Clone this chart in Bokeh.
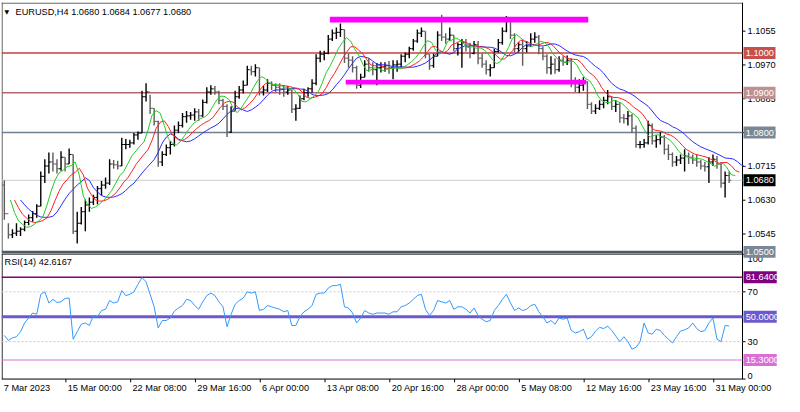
import pandas as pd
from bokeh.plotting import figure
from bokeh.models import Range1d, Label, ColumnDataSource
from bokeh.core.properties import value
from bokeh.embed import file_html
from bokeh.resources import INLINE

# ---------------- data ----------------
chart_title = "EURUSD,H4  1.0680 1.0684 1.0677 1.0680"
rsi_title = "RSI(14) 42.6167"

opens = [
    1.0668, 1.0596, 1.0543, 1.0547, 1.0552, 1.0557, 1.0574, 1.0586, 1.0596, 1.0615,
    1.0690, 1.0716, 1.0726, 1.0721, 1.0709, 1.0738, 1.0721, 1.0745, 1.0552, 1.0572,
    1.0601, 1.0618, 1.0625, 1.0637, 1.0659, 1.0668, 1.0673, 1.0721, 1.0719, 1.0716,
    1.0770, 1.0770, 1.0774, 1.0794, 1.0799, 1.0890, 1.0902, 1.0861, 1.0828, 1.0726,
    1.0745, 1.0762, 1.0770, 1.0806, 1.0818, 1.0840, 1.0842, 1.0844, 1.0852, 1.0842,
    1.0876, 1.0902, 1.0910, 1.0902, 1.0881, 1.0866, 1.0801, 1.0854, 1.0890, 1.0907,
    1.0919, 1.0958, 1.0953, 1.0963, 1.0902, 1.0907, 1.0924, 1.0919, 1.0914, 1.0910,
    1.0902, 1.0907, 1.0859, 1.0861, 1.0885, 1.0900, 1.0910, 1.0924, 1.0987, 1.0997,
    1.0999, 1.1035, 1.1050, 1.1052, 1.1059, 1.0987, 1.0982, 1.0963, 1.0919, 1.0939,
    1.0972, 1.0963, 1.0958, 1.0963, 1.0965, 1.0968, 1.0963, 1.0970, 1.0972, 1.0992,
    1.0997, 1.1011, 1.1030, 1.1050, 1.1055, 1.0997, 1.0968, 1.0992, 1.1045, 1.1040,
    1.1035, 1.1045, 1.1011, 1.1021, 1.1026, 1.1016, 1.0999, 1.1021, 1.0987, 1.0972,
    1.0958, 1.0963, 1.1004, 1.1026, 1.1055, 1.1079, 1.1045, 1.1011, 1.1021, 1.1011,
    1.1018, 1.1035, 1.1040, 1.1011, 1.0992, 1.0963, 1.0972, 1.0958, 1.0982, 1.0977,
    1.0982, 1.0927, 1.0914, 1.0919, 1.0927, 1.0871, 1.0854, 1.0861, 1.0871, 1.0881,
    1.0890, 1.0866, 1.0871, 1.0837, 1.0835, 1.0842, 1.0811, 1.0770, 1.0770, 1.0774,
    1.0818, 1.0779, 1.0782, 1.0789, 1.0758, 1.0745, 1.0726, 1.0731, 1.0736, 1.0741,
    1.0738, 1.0731, 1.0726, 1.0716, 1.0714, 1.0726, 1.0733, 1.0721, 1.0673, 1.0692,
]
highs = [
    1.0680, 1.0572, 1.0557, 1.0572, 1.0562, 1.0579, 1.0594, 1.0603, 1.0620, 1.0702,
    1.0733, 1.0750, 1.0750, 1.0733, 1.0753, 1.0738, 1.0760, 1.0745, 1.0601, 1.0613,
    1.0632, 1.0637, 1.0644, 1.0666, 1.0678, 1.0687, 1.0733, 1.0731, 1.0729, 1.0787,
    1.0784, 1.0782, 1.0799, 1.0803, 1.0905, 1.0924, 1.0895, 1.0861, 1.0830, 1.0753,
    1.0770, 1.0779, 1.0818, 1.0828, 1.0849, 1.0854, 1.0852, 1.0861, 1.0859, 1.0883,
    1.0914, 1.0919, 1.0917, 1.0905, 1.0885, 1.0871, 1.0866, 1.0905, 1.0917, 1.0931,
    1.0968, 1.0968, 1.0972, 1.0963, 1.0917, 1.0934, 1.0929, 1.0924, 1.0924, 1.0919,
    1.0917, 1.0907, 1.0871, 1.0893, 1.0910, 1.0914, 1.0934, 1.0997, 1.1006, 1.1006,
    1.1045, 1.1059, 1.1064, 1.1074, 1.1059, 1.0999, 1.0992, 1.0968, 1.0948, 1.0982,
    1.0987, 1.0977, 1.0975, 1.0977, 1.0977, 1.0980, 1.0982, 1.0982, 1.0997, 1.1001,
    1.1016, 1.1035, 1.1059, 1.1064, 1.1055, 1.0997, 1.0999, 1.1055, 1.1096, 1.1050,
    1.1064, 1.1045, 1.1026, 1.1035, 1.1035, 1.1026, 1.1030, 1.1030, 1.0999, 1.0982,
    1.0972, 1.1011, 1.1035, 1.1064, 1.1093, 1.1088, 1.1050, 1.1028, 1.1035, 1.1030,
    1.1050, 1.1052, 1.1045, 1.1016, 1.0997, 1.0992, 1.0987, 1.0992, 1.0992, 1.0994,
    1.0987, 1.0939, 1.0934, 1.0939, 1.0929, 1.0876, 1.0871, 1.0881, 1.0890, 1.0907,
    1.0890, 1.0881, 1.0876, 1.0847, 1.0854, 1.0847, 1.0818, 1.0779, 1.0784, 1.0830,
    1.0823, 1.0794, 1.0801, 1.0794, 1.0770, 1.0750, 1.0741, 1.0745, 1.0758, 1.0750,
    1.0745, 1.0745, 1.0731, 1.0726, 1.0738, 1.0745, 1.0741, 1.0726, 1.0702, 1.0702,
]
lows = [
    1.0581, 1.0533, 1.0535, 1.0540, 1.0540, 1.0552, 1.0567, 1.0576, 1.0586, 1.0615,
    1.0673, 1.0697, 1.0702, 1.0697, 1.0704, 1.0702, 1.0721, 1.0545, 1.0521, 1.0569,
    1.0552, 1.0601, 1.0618, 1.0620, 1.0642, 1.0659, 1.0668, 1.0709, 1.0707, 1.0716,
    1.0758, 1.0762, 1.0770, 1.0782, 1.0799, 1.0878, 1.0847, 1.0818, 1.0714, 1.0716,
    1.0741, 1.0745, 1.0765, 1.0799, 1.0813, 1.0825, 1.0832, 1.0830, 1.0830, 1.0840,
    1.0873, 1.0895, 1.0895, 1.0871, 1.0857, 1.0789, 1.0799, 1.0854, 1.0885, 1.0898,
    1.0919, 1.0944, 1.0941, 1.0893, 1.0893, 1.0902, 1.0907, 1.0902, 1.0895, 1.0890,
    1.0895, 1.0849, 1.0830, 1.0859, 1.0881, 1.0890, 1.0900, 1.0919, 1.0977, 1.0982,
    1.0997, 1.1030, 1.1035, 1.1040, 1.0975, 1.0963, 1.0951, 1.0910, 1.0912, 1.0939,
    1.0953, 1.0944, 1.0919, 1.0951, 1.0953, 1.0948, 1.0934, 1.0953, 1.0963, 1.0977,
    1.0987, 1.1006, 1.1026, 1.1040, 1.0987, 1.0958, 1.0963, 1.0992, 1.1030, 1.1023,
    1.1030, 1.1004, 1.0994, 1.0963, 1.1004, 1.0987, 1.0997, 1.0972, 1.0963, 1.0946,
    1.0941, 1.0963, 1.1001, 1.1021, 1.1052, 1.1035, 1.1001, 1.1001, 1.0968, 1.1001,
    1.1016, 1.1026, 1.0997, 1.0982, 1.0948, 1.0946, 1.0948, 1.0953, 1.0968, 1.0970,
    1.0914, 1.0902, 1.0900, 1.0905, 1.0859, 1.0847, 1.0847, 1.0857, 1.0861, 1.0871,
    1.0857, 1.0852, 1.0825, 1.0823, 1.0818, 1.0799, 1.0762, 1.0760, 1.0762, 1.0770,
    1.0770, 1.0762, 1.0770, 1.0745, 1.0731, 1.0714, 1.0716, 1.0721, 1.0702, 1.0721,
    1.0721, 1.0714, 1.0707, 1.0702, 1.0673, 1.0716, 1.0709, 1.0661, 1.0637, 1.0673,
]
closes = [
    1.0596, 1.0543, 1.0547, 1.0552, 1.0557, 1.0574, 1.0586, 1.0596, 1.0615, 1.0690,
    1.0716, 1.0726, 1.0721, 1.0709, 1.0738, 1.0721, 1.0745, 1.0552, 1.0572, 1.0601,
    1.0618, 1.0625, 1.0637, 1.0659, 1.0668, 1.0673, 1.0721, 1.0719, 1.0716, 1.0770,
    1.0770, 1.0774, 1.0794, 1.0799, 1.0890, 1.0902, 1.0861, 1.0828, 1.0726, 1.0745,
    1.0762, 1.0770, 1.0806, 1.0818, 1.0840, 1.0842, 1.0844, 1.0852, 1.0842, 1.0876,
    1.0902, 1.0910, 1.0902, 1.0881, 1.0866, 1.0801, 1.0854, 1.0890, 1.0907, 1.0919,
    1.0958, 1.0953, 1.0963, 1.0902, 1.0907, 1.0924, 1.0919, 1.0914, 1.0910, 1.0902,
    1.0907, 1.0859, 1.0861, 1.0885, 1.0900, 1.0910, 1.0924, 1.0987, 1.0997, 1.0999,
    1.1035, 1.1050, 1.1052, 1.1059, 1.0987, 1.0982, 1.0963, 1.0919, 1.0939, 1.0972,
    1.0963, 1.0958, 1.0963, 1.0965, 1.0968, 1.0963, 1.0970, 1.0972, 1.0992, 1.0997,
    1.1011, 1.1030, 1.1050, 1.1055, 1.0997, 1.0968, 1.0992, 1.1045, 1.1040, 1.1035,
    1.1045, 1.1011, 1.1021, 1.1026, 1.1016, 1.0999, 1.1021, 1.0987, 1.0972, 1.0958,
    1.0963, 1.1004, 1.1026, 1.1055, 1.1079, 1.1045, 1.1011, 1.1021, 1.1011, 1.1018,
    1.1035, 1.1040, 1.1011, 1.0992, 1.0963, 1.0972, 1.0958, 1.0982, 1.0977, 1.0982,
    1.0927, 1.0914, 1.0919, 1.0927, 1.0871, 1.0854, 1.0861, 1.0871, 1.0881, 1.0890,
    1.0866, 1.0871, 1.0837, 1.0835, 1.0842, 1.0811, 1.0770, 1.0770, 1.0774, 1.0818,
    1.0779, 1.0782, 1.0789, 1.0758, 1.0745, 1.0726, 1.0731, 1.0736, 1.0741, 1.0738,
    1.0731, 1.0726, 1.0716, 1.0714, 1.0726, 1.0733, 1.0721, 1.0673, 1.0692, 1.0680,
]
rsi_values = [
    35, 31, 33, 34, 38, 45, 49, 53, 52, 68,
    70, 61, 64, 61.5, 62, 64.6, 65, 32, 38, 44,
    45, 43, 51, 50, 55, 56, 63, 61, 62, 71,
    67, 68, 70, 76, 81.5, 78, 68, 58, 41, 47,
    47, 49, 54.5, 57, 59, 64, 63, 59, 56, 62,
    67, 69, 67, 62, 58, 42, 52, 60, 63, 65,
    70, 69, 70, 55, 56, 59, 58, 57, 56, 54,
    55, 43, 43, 50, 54, 56, 59, 68, 69, 69,
    73, 75, 75, 76, 58, 57, 53, 45, 49, 55,
    53, 52, 53, 53, 53, 52, 54, 54, 58, 59,
    61, 64, 67, 68, 56, 51, 55, 63, 62, 61,
    63, 56, 58, 58, 56, 53, 57, 51, 48, 46,
    47, 55, 59, 64, 68, 61, 55, 57, 55, 56,
    59, 60, 54, 50, 45, 47, 44, 49, 48, 49,
    39, 37, 38, 40, 32, 34, 38.5, 41.5, 40.5, 42.5,
    39, 34.5, 30, 34, 30, 24, 25.5, 30, 45, 37,
    36, 40, 39, 35, 32, 29, 34, 38.5, 39.5, 41,
    45, 40.5, 38, 39, 45, 49, 32, 30, 43, 42.6,
]

time_ticks = [-0.6, 15.2, 31.2, 47.2, 63.2, 79.2, 95.2, 111.2, 127.2, 143.2, 159.2, 175.2]
time_labels = ["7 Mar 2023", "15 Mar 00:00", "22 Mar 08:00", "29 Mar 16:00", "6 Apr 00:00",
               "13 Apr 08:00", "20 Apr 16:00", "28 Apr 00:00", "5 May 08:00",
               "12 May 16:00", "23 May 16:00", "31 May 00:00"]
price_ticks = [1.1055, 1.0970, 1.0885, 1.0800, 1.0715, 1.0630, 1.0545]
rsi_ticks = [100, 70, 30, 0]

price_levels = [1.1000, 1.0900, 1.0800, 1.0680, 1.0500]
rsi_levels = [81.64, 50.0, 15.3]
rsi_dotted_levels = [70, 30]

zone_left = [80.4, 84.3]
zone_right = [144.2, 143.7]
zone_top = [1.1091, 1.0933]
zone_bottom = [1.1077, 1.0921]

# Alligator settings (periods / shifts, in chart bars)
jaw_period, jaw_shift = 6.5, 4.0
teeth_period, teeth_shift = 4.0, 2.5
lips_period, lips_shift = 2.5, 1.5

# ---------------- styles / geometry ----------------
FONT = "Liberation Sans"
FS = "9.2px"
level_line_colors = ["#c4403c", "#b46a6a", "#6f7f8f", "#cccccc", "#4f5a66"]
level_line_widths = [1.6, 1.4, 1.4, 1, 2.2]
level_box_colors = ["#c8504c", "#c09090", "#7a8896", "#000000", "#7a8896"]
rsi_line_colors = ["#800080", "#6a5acd", "#da70d6"]
rsi_line_widths = [1.5, 3.2, 1.2]

X0, X1, XE = -0.7, 182.3, 192.67      # frame left, price-area right (axis line), frame right
P_LO, P_HI = 1.01365, 1.1127          # price scale over the whole frame (main panel on top)
R_LO, R_HI = -14.0, 302.2             # RSI scale over the whole frame (RSI panel below)
MAIN_BOTTOM = 1.0500
BOX_W = 7.9
P_BOX_H, R_BOX_H = 0.0030, 9.6

n = len(closes)
idx = list(range(n))

p = figure(width=784, height=396, x_range=Range1d(X0, XE), y_range=Range1d(P_LO, P_HI),
           x_axis_location=None, y_axis_location=None, output_backend="svg",
           toolbar_location=None, min_border_left=1, min_border_right=0,
           min_border_top=2, min_border_bottom=0)
p.extra_y_ranges = {"rsi": Range1d(R_LO, R_HI)}
p.background_fill_color = "white"
p.border_fill_color = "white"
p.outline_line_color = None
p.xgrid.visible = False
p.ygrid.visible = False

TXT = dict(text_font=value(FONT), text_font_size=value(FS))

# ---- frame lines ----
p.segment(x0=[X0 + 0.15, X0], y0=[MAIN_BOTTOM, 1.11255], x1=[X0 + 0.15, X1], y1=[P_HI, 1.11255],
          line_color="#444444", line_width=1)
p.segment(x0=[X0 + 0.15, X0, X0, X1], y0=[0, 100.3, 0, 0], x1=[X0 + 0.15, X1, X1, X1],
          y1=[100.3, 100.3, 0, R_HI], line_color="black", line_width=1, y_range_name="rsi")

# ---- price axis ticks ----
p.segment(x0=[X1] * len(price_ticks), y0=price_ticks, x1=[X1 + 0.75] * len(price_ticks),
          y1=price_ticks, line_color="black", line_width=1)
p.text(x=[X1 + 1.25] * len(price_ticks), y=price_ticks, text=[f"{t:.4f}" for t in price_ticks],
       text_align="left", text_baseline="middle", text_color="black", **TXT)

# ---- level lines ----
p.segment(x0=[X0] * len(price_levels), y0=price_levels, x1=[X1] * len(price_levels),
          y1=price_levels, line_color=level_line_colors, line_width=level_line_widths)

# ---- OHLC bars ----
src = ColumnDataSource(dict(
    x=idx, xl=[i - 0.5 for i in idx], xr=[i + 0.5 for i in idx],
    o=opens, h=highs, l=lows, c=closes,
    col=["#000000" if c >= o else "#5c5c5c" for o, c in zip(opens, closes)],
))
p.segment("x", "l", "x", "h", source=src, line_color="col", line_width=1.4)
p.segment("xl", "o", "x", "o", source=src, line_color="col", line_width=1)
p.segment("x", "c", "xr", "c", source=src, line_color="col", line_width=1)

# ---- Alligator ----
median = pd.Series([(h + l) / 2 for h, l in zip(highs, lows)])
for per, sh, col in [(jaw_period, jaw_shift, "#2b2bff"),
                     (teeth_period, teeth_shift, "#ff2020"),
                     (lips_period, lips_shift, "#22cc22")]:
    smma = median.ewm(alpha=1.0 / per, adjust=False).mean()
    p.line([i + sh for i in idx], list(smma), line_color=col, line_width=1)

# ---- magenta zones ----
p.quad(left=zone_left, right=zone_right, top=zone_top, bottom=zone_bottom,
       fill_color="#ff00ff", line_color=None)

# ---- RSI panel ----
for lv in rsi_dotted_levels:
    p.segment(x0=[X0], y0=[lv], x1=[X1], y1=[lv], line_color="#c8c8c8",
              line_width=1, line_dash="2 2", y_range_name="rsi")
p.segment(x0=[X0] * len(rsi_levels), y0=rsi_levels, x1=[X1] * len(rsi_levels), y1=rsi_levels,
          line_color=rsi_line_colors, line_width=rsi_line_widths, y_range_name="rsi")
p.line(idx, rsi_values, line_color="#3399ff", line_width=1, y_range_name="rsi")

p.segment(x0=[X1] * len(rsi_ticks), y0=rsi_ticks, x1=[X1 + 0.75] * len(rsi_ticks), y1=rsi_ticks,
          line_color="black", line_width=1, y_range_name="rsi")
p.text(x=[X1 + 1.25] * 2, y=rsi_ticks[1:3], text=[str(t) for t in rsi_ticks[1:3]],
       text_align="left", text_baseline="middle", text_color="black", y_range_name="rsi", **TXT)
p.text(x=[X1 + 1.25], y=[rsi_ticks[0]], y_offset=2, text=[str(rsi_ticks[0])], text_align="left",
       text_baseline="top", text_color="black", y_range_name="rsi", **TXT)
p.text(x=[X1 + 1.25], y=[rsi_ticks[3]], text=[str(rsi_ticks[3])], text_align="left",
       text_baseline="bottom", text_color="black", y_range_name="rsi", **TXT)

# ---- time axis ----
p.segment(x0=time_ticks[1:], y0=[0] * (len(time_ticks) - 1), x1=time_ticks[1:],
          y1=[-2.6] * (len(time_ticks) - 1), line_color="black", line_width=1, y_range_name="rsi")
p.text(x=[t + 0.45 for t in time_ticks], y=[-3.4] * len(time_ticks), text=time_labels,
       text_align="left", text_baseline="top", text_color="black", y_range_name="rsi", **TXT)

# ---- value boxes on the right scale ----
p.quad(left=[X1 + 0.25] * len(price_levels), right=[X1 + 0.25 + BOX_W] * len(price_levels),
       bottom=[lv - P_BOX_H / 2 for lv in price_levels], top=[lv + P_BOX_H / 2 for lv in price_levels],
       fill_color=level_box_colors, line_color=None)
p.text(x=[X1 + 0.8] * len(price_levels), y=price_levels, text=[f"{lv:.4f}" for lv in price_levels],
       text_align="left", text_baseline="middle", text_color="white", **TXT)
p.quad(left=[X1 + 0.25] * len(rsi_levels), right=[X1 + 0.25 + BOX_W + 0.3] * len(rsi_levels),
       bottom=[lv - R_BOX_H / 2 for lv in rsi_levels], top=[lv + R_BOX_H / 2 for lv in rsi_levels],
       fill_color=rsi_line_colors, line_color=None, y_range_name="rsi")
p.text(x=[X1 + 0.8] * len(rsi_levels), y=rsi_levels, text=[f"{lv:.4f}" for lv in rsi_levels],
       text_align="left", text_baseline="middle", text_color="white", y_range_name="rsi", **TXT)

# ---- titles ----
p.add_layout(Label(x=X0, y=P_HI, x_offset=3, y_offset=-9, text="\u25bc",
                   text_font="DejaVu Sans", text_font_size="6px", text_baseline="middle",
                   text_color="black"))
p.add_layout(Label(x=X0, y=P_HI, x_offset=14, y_offset=-9, text=chart_title,
                   text_font=FONT, text_font_size=FS, text_baseline="middle", text_color="black"))
p.add_layout(Label(x=X0, y=100, x_offset=3, y_offset=-8, text=rsi_title, y_range_name="rsi",
                   text_font=FONT, text_font_size=FS, text_baseline="middle", text_color="black"))

open("out.html", "w").write(file_html(p, INLINE))
